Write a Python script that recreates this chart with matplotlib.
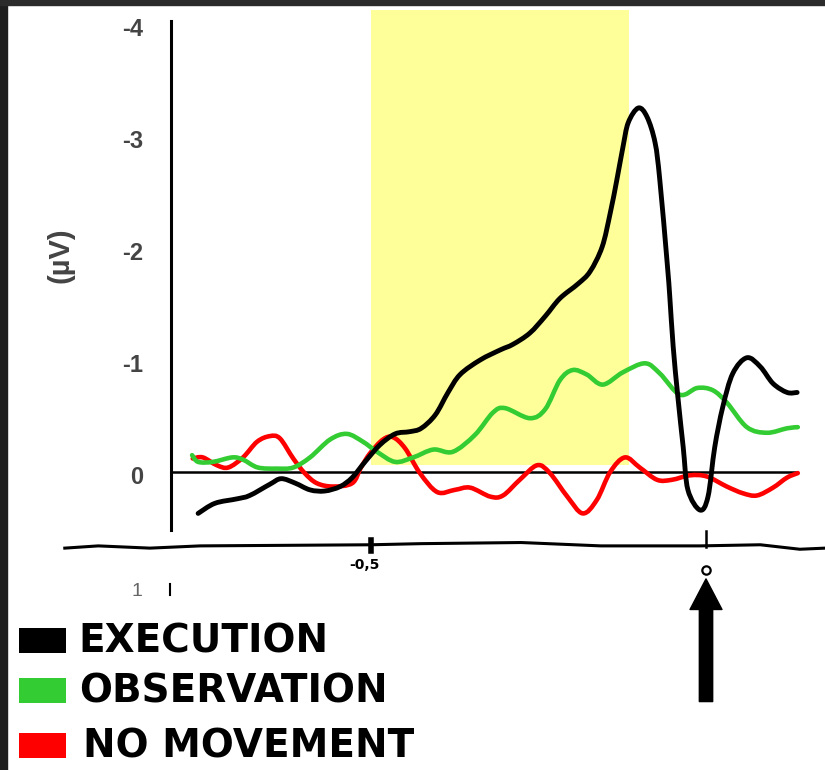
import matplotlib.pyplot as plt
from matplotlib.patches import Rectangle, PathPatch
from matplotlib.path import Path

# time relative to movement onset (s) and amplitude (uV, negative up)
exec_t = [-0.758, -0.733, -0.700, -0.681, -0.651, -0.634, -0.613, -0.591, -0.569, -0.546,
          -0.528, -0.509, -0.487, -0.464, -0.442, -0.425, -0.404, -0.385, -0.367, -0.337,
          -0.307, -0.288, -0.263, -0.240, -0.218, -0.191, -0.173, -0.155, -0.143, -0.133,
          -0.124, -0.116, -0.101, -0.088, -0.076, -0.069, -0.058, -0.054, -0.049, -0.042,
          -0.034, -0.027, -0.009, 0.003, 0.013, 0.025, 0.040, 0.061, 0.081, 0.100,
          0.121, 0.136]
exec_v = [0.37, 0.28, 0.24, 0.21, 0.11, 0.06, 0.10, 0.16, 0.17, 0.13,
          0.05, -0.09, -0.24, -0.34, -0.36, -0.39, -0.51, -0.71, -0.87, -1.00,
          -1.09, -1.14, -1.24, -1.39, -1.55, -1.68, -1.79, -2.01, -2.31, -2.61,
          -2.90, -3.12, -3.25, -3.17, -2.94, -2.61, -1.87, -1.56, -1.12, -0.67,
          -0.22, 0.16, 0.34, 0.22, -0.22, -0.58, -0.88, -1.02, -0.94, -0.79,
          -0.71, -0.71]

obs_t = [-0.767, -0.758, -0.736, -0.707, -0.691, -0.669, -0.640, -0.616, -0.591, -0.561,
         -0.536, -0.512, -0.491, -0.464, -0.437, -0.407, -0.378, -0.345, -0.318, -0.300,
         -0.263, -0.240, -0.218, -0.199, -0.178, -0.154, -0.124, -0.091, -0.069, -0.039,
         -0.013, 0.010, 0.031, 0.061, 0.091, 0.121, 0.137]
obs_v = [-0.15, -0.09, -0.09, -0.13, -0.11, -0.04, -0.03, -0.04, -0.13, -0.29,
         -0.34, -0.27, -0.18, -0.09, -0.13, -0.20, -0.18, -0.33, -0.53, -0.57,
         -0.48, -0.56, -0.82, -0.91, -0.87, -0.78, -0.89, -0.97, -0.88, -0.69,
         -0.75, -0.73, -0.62, -0.40, -0.35, -0.39, -0.40]

nomov_t = [-0.766, -0.751, -0.730, -0.713, -0.691, -0.670, -0.651, -0.636, -0.616, -0.599,
           -0.581, -0.557, -0.528, -0.515, -0.501, -0.482, -0.467, -0.449, -0.427, -0.401,
           -0.375, -0.352, -0.322, -0.303, -0.278, -0.252, -0.233, -0.207, -0.184, -0.163,
           -0.143, -0.121, -0.099, -0.073, -0.051, -0.024, 0.001, 0.031, 0.055, 0.076,
           0.100, 0.121, 0.137]
nomov_v = [-0.12, -0.13, -0.06, -0.04, -0.13, -0.27, -0.32, -0.30, -0.12, 0.01,
           0.10, 0.13, 0.10, -0.04, -0.17, -0.29, -0.31, -0.21, 0.01, 0.18,
           0.16, 0.14, 0.22, 0.21, 0.07, -0.06, 0.01, 0.22, 0.37, 0.25,
           0.00, -0.13, -0.04, 0.07, 0.07, 0.03, 0.04, 0.13, 0.19, 0.21,
           0.14, 0.05, 0.01]

y_ticks = [-4, -3, -2, -1, 0]
window = (-0.5, -0.115)
legend_labels = ["EXECUTION", "OBSERVATION", "NO MOVEMENT"]
legend_colors = ["#000000", "#33cc33", "#ff0000"]


def smooth_path(xs, ys):
    # Catmull-Rom through the points, written as cubic Bezier segments
    pts = list(zip(xs, ys))
    verts = [pts[0]]
    codes = [Path.MOVETO]
    for i in range(len(pts) - 1):
        p0 = pts[max(i - 1, 0)]
        p1 = pts[i]
        p2 = pts[i + 1]
        p3 = pts[min(i + 2, len(pts) - 1)]
        c1 = (p1[0] + (p2[0] - p0[0]) / 6, p1[1] + (p2[1] - p0[1]) / 6)
        c2 = (p2[0] - (p3[0] - p1[0]) / 6, p2[1] - (p3[1] - p1[1]) / 6)
        verts += [c1, c2, p2]
        codes += [Path.CURVE4] * 3
    return Path(verts, codes)


fig = plt.figure(figsize=(8.25, 7.7), dpi=100)
ax = fig.add_axes([0, 0, 1, 1])
ax.set_xlim(-1.0537, 0.1776)
ax.set_ylim(2.661, -4.214)
ax.axis("off")

# dark frame on the top and left edges
fig.patches.append(Rectangle((0, 0), 0.0085, 1, transform=fig.transFigure, color="#1e1e1e", zorder=10))
fig.patches.append(Rectangle((0, 0.9935), 1, 0.0065, transform=fig.transFigure, color="#2b2b2b", zorder=10))

# highlighted window
ax.add_patch(Rectangle((window[0], -4.125), window[1] - window[0], 4.06,
                       facecolor="#ffff99", edgecolor="none", zorder=0))

# y axis and zero line
ax.plot([-0.799, -0.799], [-4.03, 0.52], color="black", lw=2.2, zorder=2)
ax.plot([-0.799, 0.133], [0, 0], color="black", lw=1.8, zorder=2)
for v in y_ticks:
    ax.text(-0.840, v + 0.05, str(v), ha="right", va="center", fontsize=17,
            fontweight="bold", family="Liberation Sans", color="#444444")
ax.text(-0.963, -1.94, "(µV)", rotation=90, ha="center", va="center", fontsize=21,
        fontweight="bold", family="Liberation Sans", color="#444444")

# curves
for xs, ys, col, lw, z in [(nomov_t, nomov_v, "#ff0000", 3.3, 3),
                           (obs_t, obs_v, "#33cc33", 3.3, 4),
                           (exec_t, exec_v, "black", 3.5, 5)]:
    ax.add_patch(PathPatch(smooth_path(xs, ys), facecolor="none", edgecolor=col, lw=lw,
                           capstyle="round", joinstyle="round", zorder=z))

# time axis drawn below
base_t = [-0.957, -0.907, -0.830, -0.755, -0.500, -0.425, -0.276, -0.157, -0.009, 0.081, 0.140, 0.178]
base_v = [0.68, 0.66, 0.68, 0.66, 0.65, 0.64, 0.63, 0.66, 0.66, 0.65, 0.69, 0.68]
ax.plot(base_t, base_v, color="black", lw=2.2, zorder=2)
ax.plot([-0.5, -0.5], [0.61, 0.71], color="black", lw=4, zorder=2)
ax.plot([0, 0], [0.53, 0.67], color="black", lw=1.8, zorder=2)
ax.text(-0.51, 0.83, "-0,5", ha="center", va="center", fontsize=10, fontweight="bold", family="DejaVu Sans")
ax.plot([0], [0.875], marker="o", ms=6, mfc="white", mec="black", mew=1.6)
ax.text(-0.849, 1.07, "1", ha="center", va="center", fontsize=14, color="#666666", family="Liberation Sans")
ax.plot([-0.800, -0.800], [1.0, 1.1], color="black", lw=1.5)

# movement onset arrow
ax.annotate("", xy=(0, 0.955), xytext=(0, 2.05),
            arrowprops=dict(arrowstyle="simple,head_length=1.1,head_width=1.15,tail_width=0.48",
                            mutation_scale=20, color="black", shrinkA=0, shrinkB=0))

# legend
for i, (lab, col) in enumerate(zip(legend_labels, legend_colors)):
    y0 = [1.39, 1.84, 2.33][i]
    x_text = -0.930 if i == 2 else -0.936
    ax.add_patch(Rectangle((-1.025, y0), 0.0705, 0.225, facecolor=col, edgecolor="none"))
    ax.text(x_text, y0 + 0.12, lab, ha="left", va="center", fontsize=28, fontweight="bold",
            family="DejaVu Sans", color="black")

fig.savefig("out.png", dpi=100)
